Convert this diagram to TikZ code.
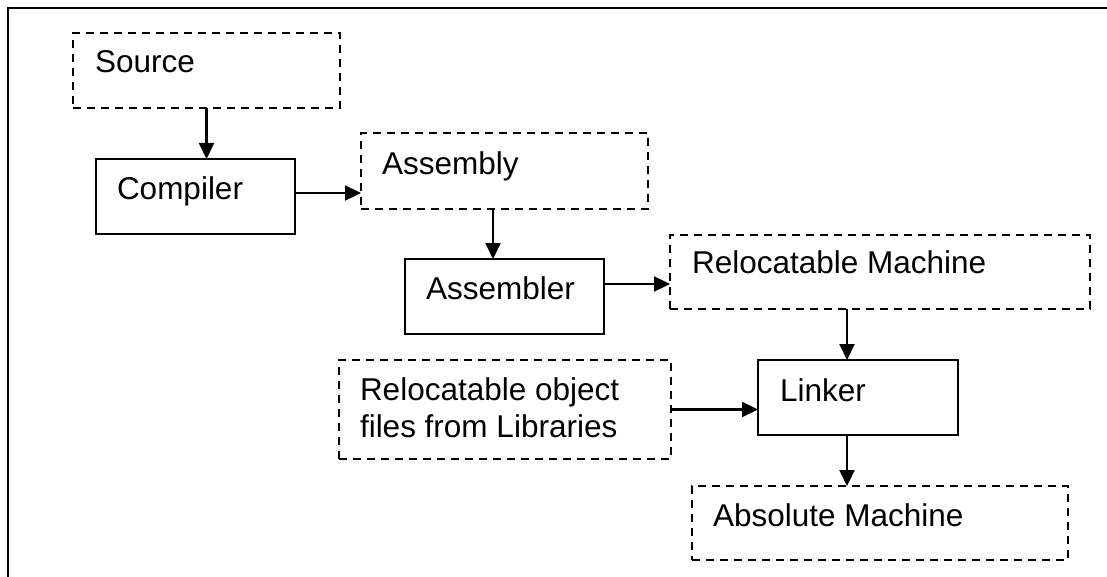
\documentclass[tikz,border=0pt]{standalone}
\usepackage{fontspec}
\setmainfont{Liberation Sans}
\usetikzlibrary{arrows.meta}
\begin{document}
\begin{tikzpicture}[x=1pt,y=-1pt,
  every node/.style={inner sep=0pt,outer sep=0pt},
  stagebox/.style={draw,line width=2.4pt,minimum width=#1},
  filebox/.style={draw,line width=2.2pt,dash pattern=on 8pt off 6pt,minimum width=#1},
  txt/.style={anchor=base west,font=\fontsize{31.5}{37}\selectfont,align=left},
  arr/.style={line width=2.2pt,-{Triangle[length=16pt,width=15pt]}},
  frameline/.style={line width=2.8pt}]
\useasboundingbox (0,0) rectangle (1107,577);

% open frame: left and top edges only
\draw[frameline] (8,577) -- (8,8) -- (1107,8);

% files (dashed) and tools (solid)
\node[filebox=267pt,minimum height=75pt] (source)   at (206.5,70.5) {};
\node[stagebox=199pt,minimum height=75pt] (compiler) at (195.5,196.5) {};
\node[filebox=287pt,minimum height=76pt] (assembly) at (504.5,171) {};
\node[stagebox=199pt,minimum height=75pt] (assembler) at (504.5,296.5) {};
\node[filebox=420pt,minimum height=74pt] (relmach)  at (880,272) {};
\node[stagebox=200pt,minimum height=75pt] (linker)   at (858,397.5) {};
\node[filebox=332pt,minimum height=99pt] (relobj)   at (505,409.5) {};
\node[filebox=376pt,minimum height=74pt] (absolute) at (880,523) {};

% labels (a multi-line label sits on its last baseline)
\node[txt] (source-t)    at (95,73)   {Source};
\node[txt] (compiler-t)  at (117,200) {Compiler};
\node[txt] (assembly-t)  at (382,175) {Assembly};
\node[txt] (assembler-t) at (426,299) {Assembler};
\node[txt] (relmach-t)   at (692,273) {Relocatable Machine};
\node[txt] (linker-t)    at (780,401) {Linker};
\node[txt] (relobj-t)    at (360,437) {Relocatable object\\files from Libraries};
\node[txt] (absolute-t)  at (713,526) {Absolute Machine};

% flow
\draw[arr] (source.south) -- (source.south |- compiler.north);
\draw[arr] ([yshift=3.5pt]compiler.east) -- ([yshift=3.5pt]compiler.east -| assembly.west);
\draw[arr] ([xshift=-11.5pt]assembly.south) -- ([xshift=-11.5pt]assembly.south |- assembler.north);
\draw[arr] ([yshift=12.5pt]assembler.east) -- ([yshift=12.5pt]assembler.east -| relmach.west);
\draw[arr] ([xshift=-33pt]relmach.south) -- ([xshift=-33pt]relmach.south |- linker.north);
\draw[arr] (relobj.east) -- (relobj.east -| linker.west);
\draw[arr] ([xshift=-11pt]linker.south) -- ([xshift=-11pt]linker.south |- absolute.north);
\end{tikzpicture}
\end{document}
